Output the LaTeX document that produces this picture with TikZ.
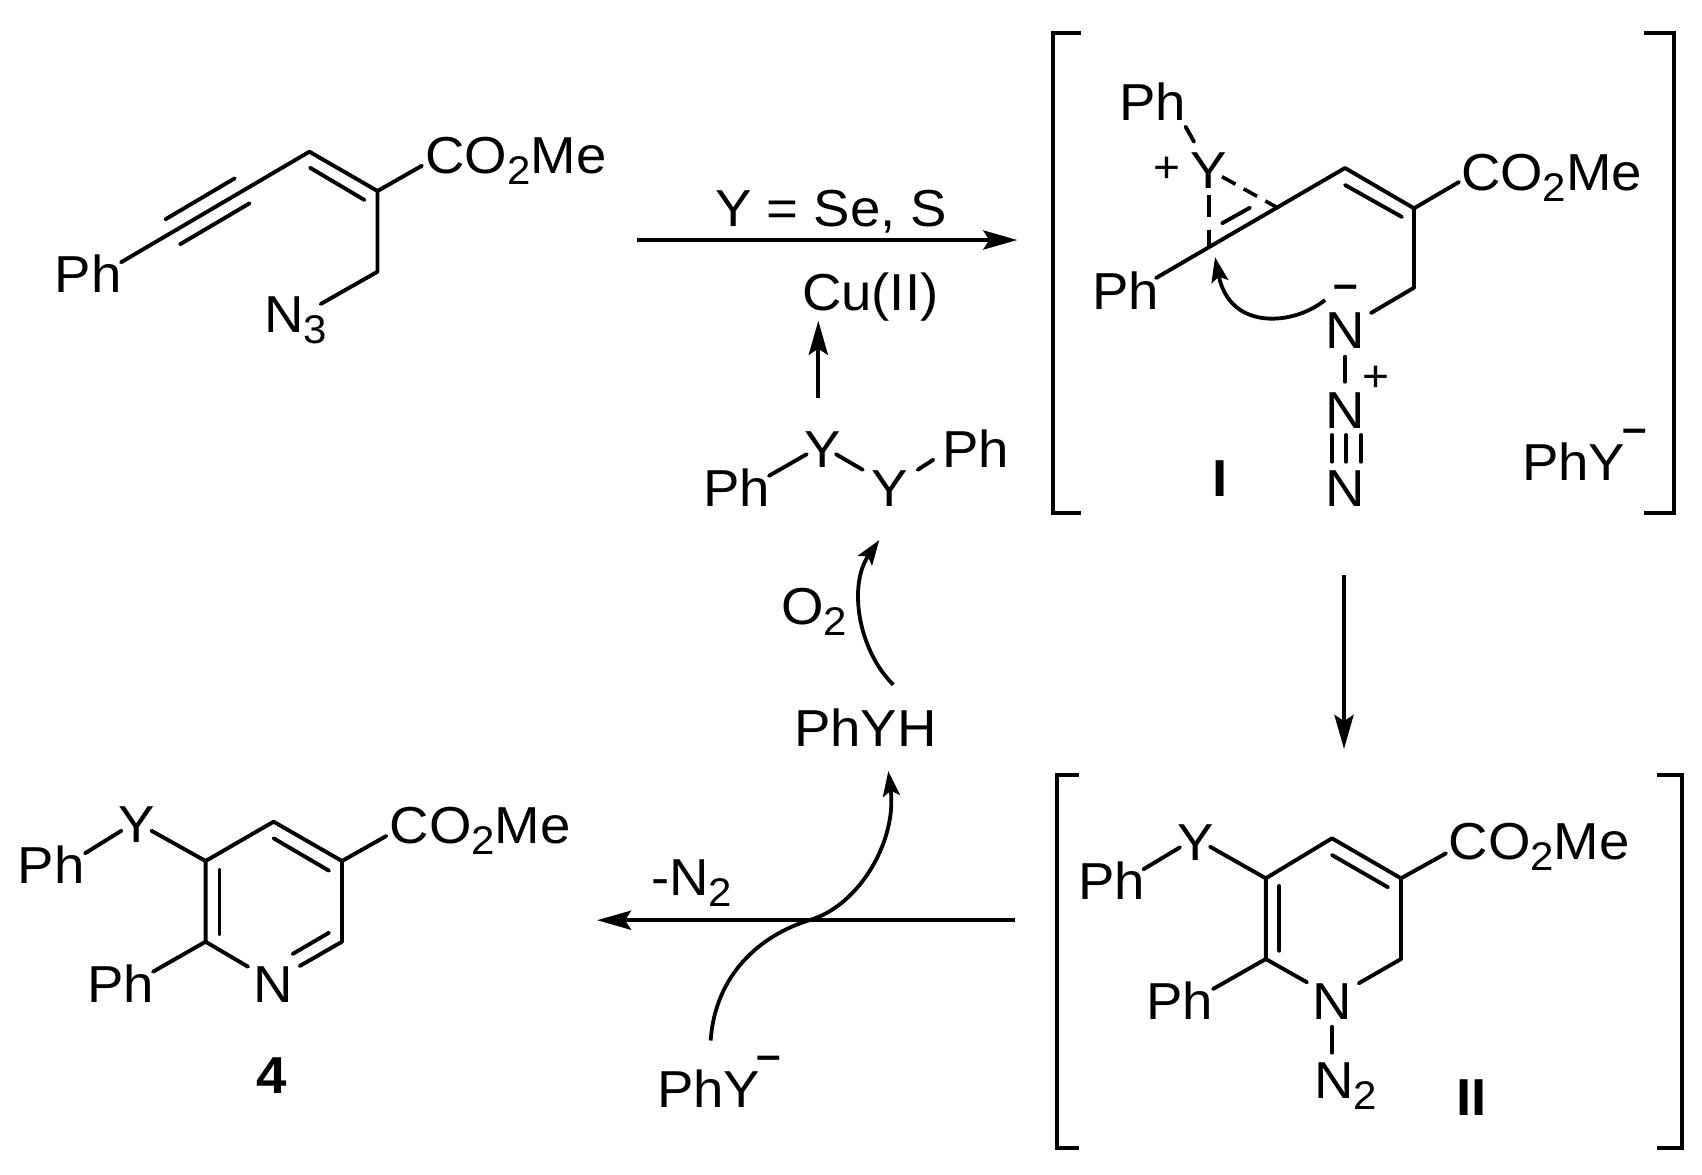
\documentclass[tikz,border=0pt]{standalone}
\usepackage{fontspec}
\setmainfont[FakeStretch=1.05]{Liberation Sans}
\usetikzlibrary{arrows.meta}
\newcommand\sbs[1]{\raisebox{-5.5pt}{\fontsize{20}{22}\selectfont #1}}
\tikzset{
  lbl/.style={inner sep=0pt,outer sep=0pt,anchor=base west,xshift=-1.5pt,font=\fontsize{26}{30}\selectfont},
  clbl/.style={inner sep=0pt,outer sep=0pt,anchor=base,font=\fontsize{26}{30}\selectfont},
  chg/.style={inner sep=0pt,outer sep=0pt,anchor=center,yshift=-0.8pt,font=\fontsize{22}{26}\selectfont},
  mns/.style={inner sep=0pt,outer sep=0pt,anchor=center,yshift=-2.7pt,font=\fontsize{21}{24}\selectfont\bfseries},
  bnd/.style={line width=1.95pt,line cap=round,line join=round},
  brk/.style={line width=2pt,line cap=butt,line join=miter},
  dsh/.style={line width=1.8pt,line cap=butt},
  arw/.style={line width=2.1pt,-{Stealth[length=17pt,width=9.5pt,inset=3pt]}},
  carw/.style={line width=1.9pt,-{Stealth[length=12.5pt,width=8.5pt,inset=2.5pt]}},
}
\begin{document}
\begin{tikzpicture}[x=0.5pt,y=-0.5pt]
\useasboundingbox (0,0) rectangle (1702,1174);

% ---- azide substrate
\node[lbl] (aPh) at (57.7,292.3) {Ph};
\node[lbl] (aCO) at (428.5,173.3) {CO\sbs{2}Me};
\node[lbl] (aN3) at (267,332.3) {N\sbs{3}};
\coordinate (a0) at (121,262.3);
\coordinate (a1) at (309.4,151.7);
\coordinate (a2) at (377.5,191);
\coordinate (a3) at (377.5,271.7);
\coordinate (a4) at (320.7,304);
\coordinate (a5) at (422,165.7);
\coordinate (a6) at (310,167.7);
\coordinate (a7) at (364.5,200);
\coordinate (a8) at (165.4,219.3);
\coordinate (a9) at (234.8,178.3);
\coordinate (a10) at (180,244.3);
\coordinate (a11) at (249.6,203.3);
\draw[bnd] (a0)--(a1)--(a2)--(a3)--(a4);
\draw[bnd] (a2)--(a5);
\draw[bnd] (a6)--(a7);
\draw[bnd] (a8)--(a9);
\draw[bnd] (a10)--(a11);

% ---- top arrow
\coordinate (t0) at (637,240);
\coordinate (t1) at (1017.3,240);
\draw[arw] (t0)--(t1);
\node[lbl] (ycond) at (718,226) {Y = Se, S};
\node[lbl] (cu) at (805,310) {Cu(II)};
\coordinate (u0) at (818.3,397.7);
\coordinate (u1) at (818.3,320.7);
\draw[arw] (u0)--(u1);

% ---- intermediate I
\coordinate (bi1) at (1081,33.3);
\coordinate (bi2) at (1052.7,33.3);
\coordinate (bi3) at (1052.7,512.7);
\coordinate (bi4) at (1081,512.7);
\coordinate (bi5) at (1643.6,33.3);
\coordinate (bi6) at (1674,33.3);
\coordinate (bi7) at (1674,512.7);
\coordinate (bi8) at (1643.6,512.7);
\draw[brk] (bi1)--(bi2)--(bi3)--(bi4);
\draw[brk] (bi5)--(bi6)--(bi7)--(bi8);
\node[lbl] (iPh1) at (1122,120) {Ph};
\node[clbl] (iY) at (1209,188) {Y};
\node[chg] (iYp) at (1167,168) {+};
\node[lbl] (iPh2) at (1095,309) {Ph};
\node[lbl] (iCO) at (1464,190.7) {CO\sbs{2}Me};
\node[clbl] (iN1) at (1345,348) {N};
\node[clbl] (iN2) at (1345,428) {N};
\node[clbl] (iN3) at (1345,506.7) {N};
\node[mns] (iNm) at (1346,286) {–};
\node[chg] (iNp) at (1375.6,376.7) {+};
\node[clbl] (iI) at (1220,496.7) {\bfseries I};
\node[lbl] (iPhY) at (1525,480) {PhY};
\node[mns] (iPhYm) at (1635,430.7) {–};
\coordinate (i0) at (1156,278);
\coordinate (i1) at (1209,247.7);
\coordinate (i2) at (1278.5,208.3);
\coordinate (i3) at (1345,168);
\coordinate (i4) at (1414,208.3);
\coordinate (i5) at (1414,287.7);
\coordinate (i6) at (1371,313);
\coordinate (i7) at (1459,182);
\coordinate (i8) at (1345,185);
\coordinate (i9) at (1402,217);
\coordinate (i10) at (1222,223.3);
\coordinate (i11) at (1250,207.7);
\coordinate (i12) at (1209,195);
\coordinate (i13) at (1222,176.7);
\coordinate (i14) at (1185.6,126.7);
\coordinate (i15) at (1194,141.7);
\coordinate (i16) at (1345,356.7);
\coordinate (i17) at (1345,381.7);
\coordinate (i18) at (1332,435);
\coordinate (i19) at (1332,461.7);
\coordinate (i20) at (1346,435);
\coordinate (i21) at (1346,461.7);
\coordinate (i22) at (1361,435);
\coordinate (i23) at (1361,461.7);
\coordinate (i24) at (1325,300);
\coordinate (i25) at (1215,257);
\draw[bnd] (i0)--(i3)--(i4)--(i5)--(i6);
\draw[bnd] (i4)--(i7);
\draw[bnd] (i8)--(i9);
\draw[bnd] (i10)--(i11);
\draw[dsh,dash pattern=on 10.8pt off 6.5pt] (i12)--(i1);
\draw[dsh,dash pattern=on 7.7pt off 4.7pt] (i13)--(i2);
\draw[bnd] (i14)--(i15);
\draw[bnd] (i16)--(i17);
\draw[bnd] (i18)--(i19);
\draw[bnd] (i20)--(i21);
\draw[bnd] (i22)--(i23);
\draw[carw] (i24) .. controls (1295,325) and (1230,332) .. (i25);

% ---- arrow I -> II
\coordinate (d0) at (1344,575);
\coordinate (d1) at (1344,749);
\draw[arw] (d0)--(d1);

% ---- intermediate II
\coordinate (bj1) at (1079,775);
\coordinate (bj2) at (1057,775);
\coordinate (bj3) at (1057,1148.3);
\coordinate (bj4) at (1079,1148.3);
\coordinate (bj5) at (1657,775);
\coordinate (bj6) at (1681.6,775);
\coordinate (bj7) at (1681.6,1148.3);
\coordinate (bj8) at (1657,1148.3);
\draw[brk] (bj1)--(bj2)--(bj3)--(bj4);
\draw[brk] (bj5)--(bj6)--(bj7)--(bj8);
\node[clbl] (jY) at (1196,860) {Y};
\node[lbl] (jPh1) at (1081,899.3) {Ph};
\node[lbl] (jCO) at (1451.6,859.3) {CO\sbs{2}Me};
\node[lbl] (jPh2) at (1149,1019.3) {Ph};
\node[clbl] (jN) at (1332,1019.3) {N};
\node[lbl] (jN2) at (1317,1098.3) {N\sbs{2}};
\node[clbl] (jII) at (1471.4,1115) {\bfseries II};
\coordinate (j0) at (1143.4,869.3);
\coordinate (j1) at (1180,847.3);
\coordinate (j2) at (1210,846.7);
\coordinate (j3) at (1265.8,878.3);
\coordinate (j4) at (1332,838.3);
\coordinate (j5) at (1401,878.3);
\coordinate (j6) at (1401,959);
\coordinate (j7) at (1358.7,983.3);
\coordinate (j8) at (1265.8,959);
\coordinate (j9) at (1307,982.3);
\coordinate (j10) at (1279.3,886);
\coordinate (j11) at (1279.3,950.7);
\coordinate (j12) at (1332,855);
\coordinate (j13) at (1388,887.3);
\coordinate (j14) at (1446,853.3);
\coordinate (j15) at (1213,989);
\coordinate (j16) at (1332,1026.7);
\coordinate (j17) at (1332,1052.7);
\draw[bnd] (j0)--(j1);
\draw[bnd] (j2)--(j3)--(j4)--(j5)--(j6)--(j7);
\draw[bnd] (j3)--(j8)--(j9);
\draw[bnd] (j10)--(j11);
\draw[bnd] (j12)--(j13);
\draw[bnd] (j5)--(j14);
\draw[bnd] (j8)--(j15);
\draw[bnd] (j16)--(j17);

% ---- bottom arrow
\coordinate (b0) at (1015,920.2);
\coordinate (b1) at (597,920.2);
\draw[arw] (b0)--(b1);
\node[lbl] (n2) at (654,895.9) {-N\sbs{2}};

% ---- product 4
\node[clbl] (pY) at (137.2,842.7) {Y};
\node[lbl] (pPh1) at (21,883.3) {Ph};
\node[lbl] (pCO) at (392.6,843.3) {CO\sbs{2}Me};
\node[lbl] (pPh2) at (90,1002.3) {Ph};
\node[clbl] (pN) at (272.8,1002.3) {N};
\node[clbl] (p4) at (272,1093.3) {\bfseries 4};
\coordinate (p0) at (85,853.3);
\coordinate (p1) at (121.4,830.7);
\coordinate (p2) at (151.4,830.7);
\coordinate (p3) at (205.6,861);
\coordinate (p5) at (273.6,821.7);
\coordinate (p6) at (342,861);
\coordinate (p7) at (342,941.7);
\coordinate (p8) at (299.7,966);
\coordinate (p9) at (205.6,941.7);
\coordinate (p10) at (248,966.7);
\coordinate (p11) at (219.5,870);
\coordinate (p12) at (219.5,934);
\coordinate (p13) at (273.6,838.3);
\coordinate (p14) at (329,870.7);
\coordinate (p15) at (292.6,954);
\coordinate (p16) at (329,932.7);
\coordinate (p17) at (386.3,836);
\coordinate (p18) at (153,971.7);
\draw[bnd] (p0)--(p1);
\draw[bnd] (p2)--(p3)--(p5)--(p6)--(p7)--(p8);
\draw[bnd] (p3)--(p9)--(p10);
\draw[bnd] (p11)--(p12);
\draw[bnd] (p13)--(p14);
\draw[bnd] (p15)--(p16);
\draw[bnd] (p6)--(p17);
\draw[bnd] (p9)--(p18);

% ---- catalytic cycle
\node[lbl] (cPh1) at (706,506.5) {Ph};
\node[clbl] (cY1) at (822.3,467.5) {Y};
\node[clbl] (cY2) at (889.3,506.5) {Y};
\node[lbl] (cPh2) at (945,467.5) {Ph};
\coordinate (c0) at (769,475.8);
\coordinate (c1) at (806.7,454.2);
\coordinate (c2) at (836,454.2);
\coordinate (c3) at (862.7,469.8);
\coordinate (c4) at (917.7,469.8);
\coordinate (c5) at (933.3,459.7);
\draw[bnd] (c0)--(c1);
\draw[bnd] (c2)--(c3);
\draw[bnd] (c4)--(c5);
\node[lbl] (o2) at (784,624) {O\sbs{2}};
\node[lbl] (phyh) at (797,746.6) {PhYH};
\coordinate (o0) at (893.3,684.7);
\coordinate (o1) at (879.3,540);
\draw[carw] (o0) .. controls (858,650) and (848,585) .. (o1);
\node[lbl] (phy) at (660,1107) {PhY};
\node[mns] (phym) at (769,1057.5) {–};
\coordinate (s0) at (710.7,1040.5);
\coordinate (s1) at (810,920);
\coordinate (s2) at (888.3,771);
\draw[carw] (s0) .. controls (715,975) and (760,935) .. (s1) .. controls (860,905) and (897,840) .. (s2);
\end{tikzpicture}
\end{document}
